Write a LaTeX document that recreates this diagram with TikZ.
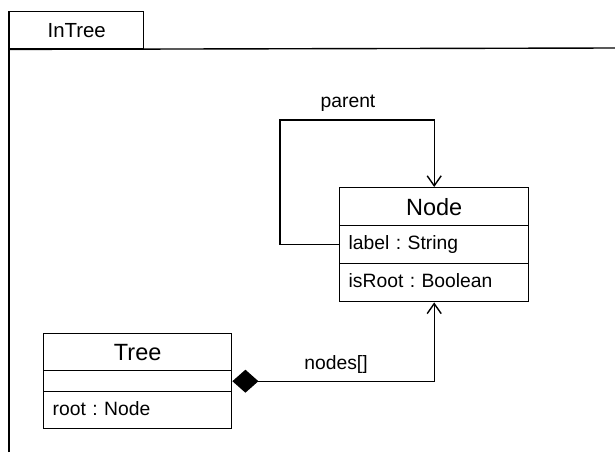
\documentclass[tikz,border=0pt]{standalone}
\usepackage{fontspec}
\setmainfont{Liberation Sans}
\usetikzlibrary{arrows.meta}
\frenchspacing
\begin{document}
\begin{tikzpicture}[x=1pt,y=-1pt,line width=1.4pt,
  smalltext/.style={font=\fontsize{19.3}{23}\selectfont},
  classtitle/.style={draw,anchor=north west,inner sep=0pt,minimum height=38pt,
    text height=17pt,text depth=0pt,font=\fontsize{23.5}{28}\selectfont},
  member/.style={draw,anchor=north west,inner xsep=9pt,inner ysep=0pt,align=left,
    text height=14pt,text depth=4pt,smalltext},
  emptyrow/.style={draw,anchor=north west,inner sep=0pt,minimum height=21pt},
  openhead/.style={-{Straight Barb[length=10pt,width=14pt]}},
  composite/.style={{Diamond[length=26pt,width=23pt]}-{Straight Barb[length=10pt,width=14pt]}}]
\useasboundingbox (0,0) rectangle (615,452);

% package frame with its tab
\node[draw,anchor=north west,inner sep=0pt,minimum width=134pt,minimum height=37pt,
  text height=15pt,text depth=0pt,font=\fontsize{20.4}{24}\selectfont] (tab) at (9,11) {InTree};
\draw (9,452) -- (tab.north west);
\draw (tab.south west) -- (615,48);

% class Node
\node[classtitle,minimum width=189pt] (nodeName) at (339,187) {Node};
\node[member,minimum height=38pt,text width=171pt] (nodeLabel) at (339,225) {label : String};
\node[member,minimum height=38pt,text width=171pt] (nodeRoot) at (339,263) {isRoot : Boolean};

% class Tree
\node[classtitle,minimum width=188pt,minimum height=37pt] (treeName) at (43,333) {Tree};
\node[emptyrow,minimum width=188pt] (treeOps) at (43,370) {};
\node[member,minimum height=37pt,text width=170pt] (treeRoot) at (43,391) {root : Node};

% self association "parent"
\coordinate (loopCorner) at (280,120);
\draw[openhead] (nodeLabel.west) -| (loopCorner) -| (nodeName.north);
\node[smalltext] (parentLabel) at (348,103) {parent};

% composition Tree -> Node
\draw[composite] (treeOps.east) -| (nodeRoot.south);
\node[smalltext] (nodesLabel) at (336,365) {nodes[]};
\end{tikzpicture}
\end{document}
